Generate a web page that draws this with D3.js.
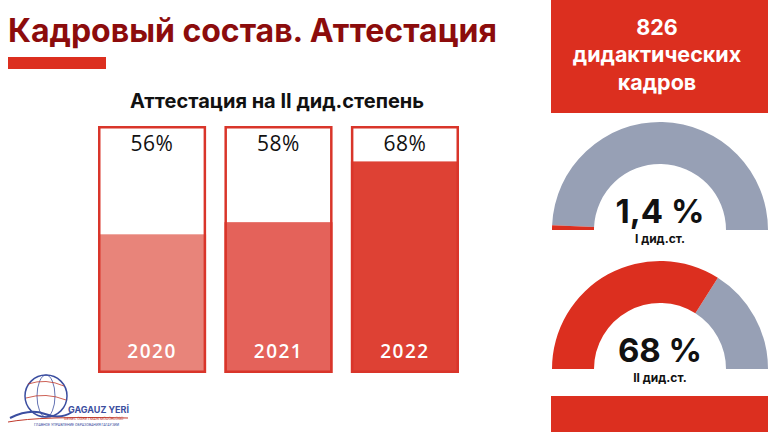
<!DOCTYPE html>
<html>
<head>
<meta charset="utf-8">
<script src="https://cdn.jsdelivr.net/npm/d3@7"></script>
<style>
  body { margin: 0; background: #fff; }
  svg { display: block; }
</style>
</head>
<body>
<script>
// data
var years = ["2020", "2021", "2022"];
var attest = [56, 58, 68];
var barColors = ["#e8847a", "#e4625a", "#de4134"];
var gaugeValues = [1.4, 68];
var gaugeTexts = ["1,4 %", "68 %"];
var gaugeLabels = ["I дид.ст.", "II дид.ст."];
var totalLines = ["826", "дидактических", "кадров"];

var W = 768, H = 432;
var red = "#dc2f1f", gray = "#97a0b5";

var svg = d3.select("body").append("svg")
    .attr("width", W)
    .attr("height", H);

// title
svg.append("text")
  .attr("x", 8).attr("y", 42)
  .attr("textLength", 489)
  .style("font-family", "Inter, Roboto, sans-serif")
  .style("font-weight", 700)
  .style("font-size", "32px")
  .style("fill", "#8c0c0c")
  .text("Кадровый состав. Аттестация");

svg.append("rect")
  .attr("x", 8).attr("y", 57).attr("width", 98).attr("height", 12)
  .style("fill", red);

svg.append("text")
  .attr("x", 277).attr("y", 108)
  .attr("text-anchor", "middle")
  .style("font-family", "Inter, Roboto, sans-serif")
  .style("font-weight", 700)
  .style("font-size", "20px")
  .style("fill", "#111")
  .text("Аттестация на II дид.степень");

// bars
var boxTop = 126, boxBottom = 373;
var x = d3.scaleBand().domain(years).range([98, 459]).paddingInner(0.145);
var y = d3.scaleLinear().domain([33.5, 73.5]).range([boxBottom - 2, boxTop + 2]);

var bars = svg.selectAll("g.bar")
  .data(years)
  .enter().append("g")
  .attr("class", "bar");

bars.append("rect")
  .attr("x", function(d) { return x(d); })
  .attr("y", boxTop)
  .attr("width", x.bandwidth())
  .attr("height", boxBottom - boxTop)
  .style("fill", "#fff");

bars.append("rect")
  .attr("x", function(d) { return x(d); })
  .attr("y", function(d, i) { return y(attest[i]); })
  .attr("width", x.bandwidth())
  .attr("height", function(d, i) { return boxBottom - y(attest[i]); })
  .style("fill", function(d, i) { return barColors[i]; });

bars.append("rect")
  .attr("x", function(d) { return x(d) + 1.25; })
  .attr("y", boxTop + 1.25)
  .attr("width", x.bandwidth() - 2.5)
  .attr("height", boxBottom - boxTop - 2.5)
  .style("fill", "none")
  .style("stroke", "#d9352a")
  .style("stroke-width", 2.5);

bars.append("text")
  .attr("x", function(d) { return x(d) + x.bandwidth() / 2; })
  .attr("y", 151)
  .attr("text-anchor", "middle")
  .style("font-family", "'Open Sans', sans-serif")
  .style("font-size", "21px")
  .style("letter-spacing", "0.5px")
  .style("fill", "#111")
  .text(function(d, i) { return attest[i] + "%"; });

bars.append("text")
  .attr("x", function(d) { return x(d) + x.bandwidth() / 2; })
  .attr("y", 358)
  .attr("text-anchor", "middle")
  .style("font-family", "'Open Sans', sans-serif")
  .style("font-weight", 600)
  .style("font-size", "19px")
  .style("letter-spacing", "1.5px")
  .style("fill", "#fff")
  .text(function(d) { return d; });

// right panel
svg.append("rect")
  .attr("x", 551).attr("y", 0).attr("width", W - 551).attr("height", 113)
  .style("fill", red);

svg.selectAll("text.total")
  .data(totalLines)
  .enter().append("text")
  .attr("class", "total")
  .attr("x", 657)
  .attr("y", function(d, i) { return 34.5 + i * 27.5; })
  .attr("text-anchor", "middle")
  .style("font-family", "Inter, Roboto, sans-serif")
  .style("font-weight", 700)
  .style("font-size", "21.5px")
  .style("fill", "#fff")
  .text(function(d) { return d; });

svg.append("rect")
  .attr("x", 551).attr("y", 396).attr("width", W - 551).attr("height", H - 396)
  .style("fill", red);

// gauges
var gaugeY = [230, 369];
var angle = d3.scaleLinear().domain([0, 100]).range([-Math.PI / 2, Math.PI / 2]);
var arc = d3.arc().innerRadius(66).outerRadius(108);

gaugeValues.forEach(function(v, i) {
  var g = svg.append("g").attr("transform", "translate(660," + gaugeY[i] + ")");
  g.append("path")
    .attr("d", arc({startAngle: angle(v), endAngle: angle(100)}))
    .style("fill", gray);
  g.append("path")
    .attr("d", arc({startAngle: angle(0), endAngle: angle(v)}))
    .style("fill", red);
  g.append("text")
    .attr("x", 0).attr("y", -7)
    .attr("text-anchor", "middle")
    .style("font-family", "Inter, Roboto, sans-serif")
    .style("font-weight", 700)
    .style("font-size", "33px")
    .style("fill", "#111")
    .text(gaugeTexts[i]);
  g.append("text")
    .attr("x", 0).attr("y", 13)
    .attr("text-anchor", "middle")
    .style("font-family", "Inter, Roboto, sans-serif")
    .style("font-weight", 700)
    .style("font-size", "12px")
    .style("fill", "#111")
    .text(gaugeLabels[i]);
});

// logo (simplified)
var logo = svg.append("g");
logo.append("circle")
  .attr("cx", 46).attr("cy", 396).attr("r", 21)
  .style("fill", "none").style("stroke", "#3b4ea0").style("stroke-width", 1.5);
logo.append("ellipse")
  .attr("cx", 46).attr("cy", 396).attr("rx", 9).attr("ry", 21)
  .style("fill", "none").style("stroke", "#3b4ea0").style("stroke-width", 0.8);
logo.append("path")
  .attr("d", "M28,384 Q46,378 64,386 M26,398 Q46,392 66,400")
  .style("fill", "none").style("stroke", "#c0392b").style("stroke-width", 0.8);
logo.append("path")
  .attr("d", "M10,418 Q30,408 45,414 Q60,420 72,412")
  .style("fill", "none").style("stroke", "#3b4ea0").style("stroke-width", 2);
logo.append("path")
  .attr("d", "M8,422 Q40,416 128,418")
  .style("fill", "none").style("stroke", "#c0392b").style("stroke-width", 1);
logo.append("text")
  .attr("x", 68).attr("y", 413)
  .style("font-family", "Inter, Roboto, sans-serif")
  .style("font-weight", 700)
  .style("font-size", "9px")
  .style("fill", "#3b4ea0")
  .text("GAGAUZ YERİ");
logo.append("text")
  .attr("x", 64).attr("y", 420)
  .style("font-family", "Roboto, sans-serif")
  .style("font-size", "4px")
  .style("fill", "#c0392b")
  .text("GENEL ÜĞRETMAN MÜDÜRLÜĞÜ");
logo.append("text")
  .attr("x", 34).attr("y", 426)
  .style("font-family", "Roboto, sans-serif")
  .style("font-size", "3.6px")
  .style("fill", "#3b4ea0")
  .text("ГЛАВНОЕ УПРАВЛЕНИЕ ОБРАЗОВАНИЯ ГАГАУЗИИ");
</script>
</body>
</html>
